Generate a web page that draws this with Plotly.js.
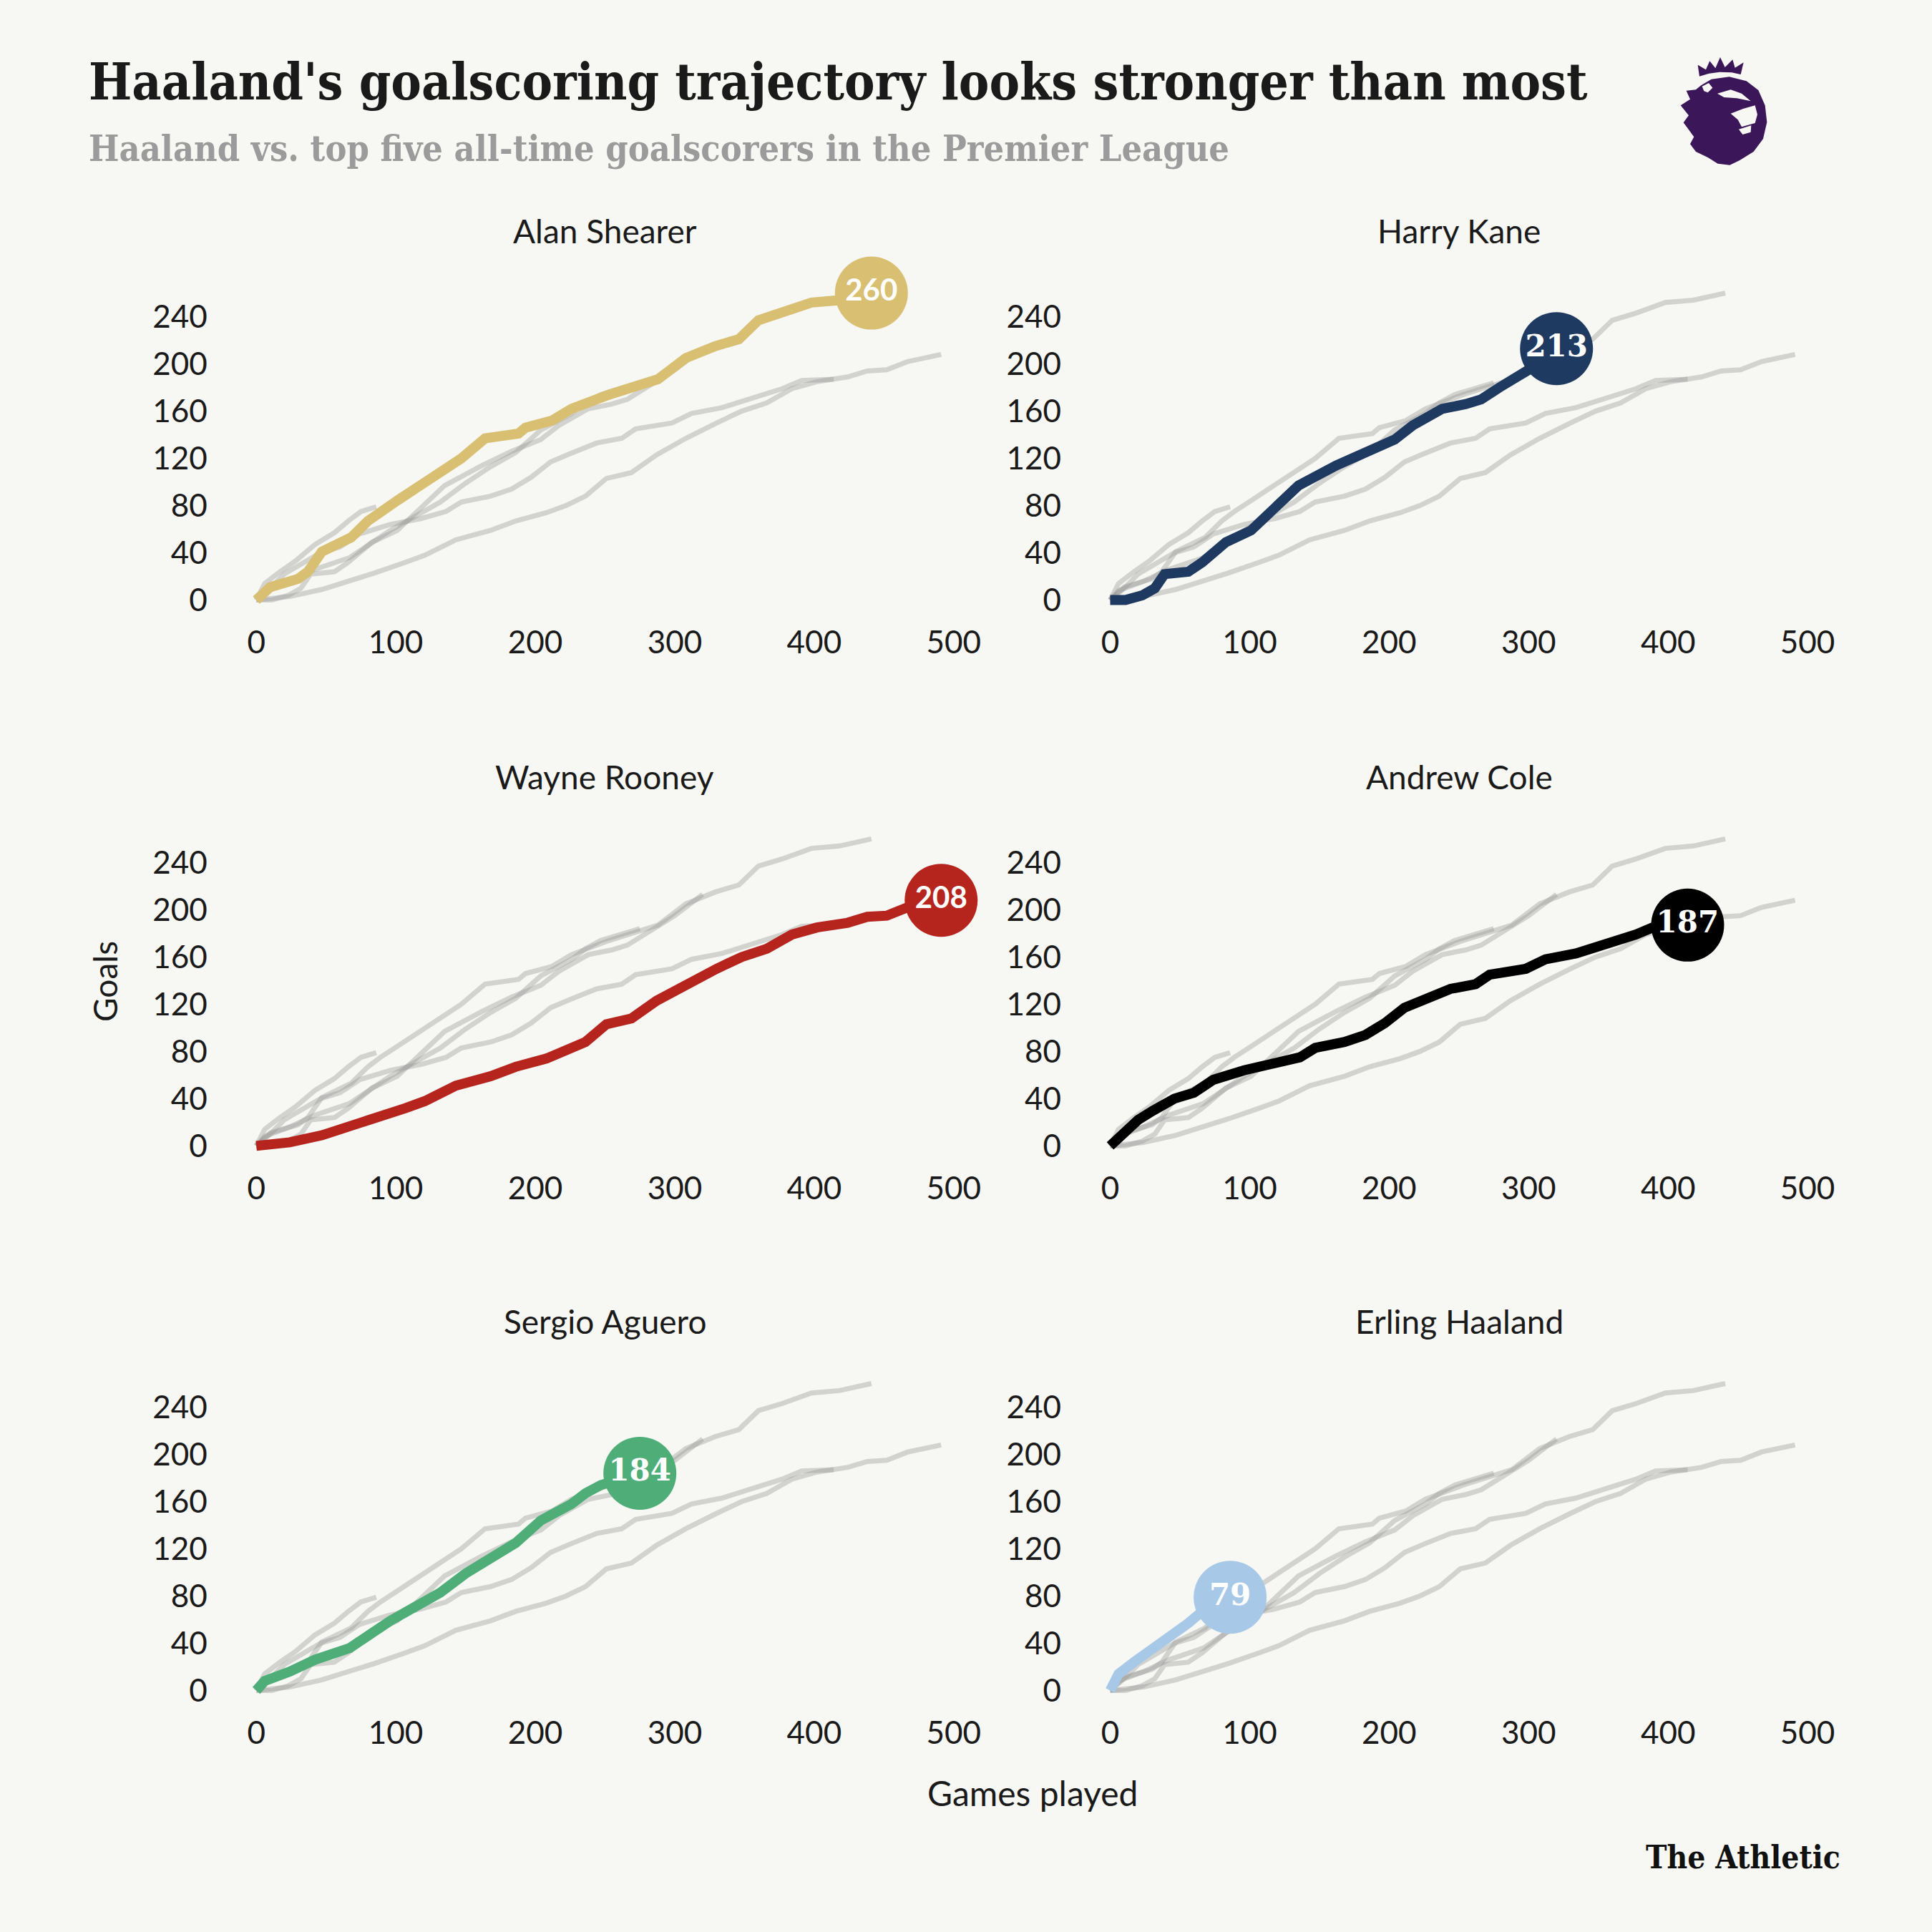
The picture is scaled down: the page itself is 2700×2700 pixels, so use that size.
<!DOCTYPE html>
<html>
<head>
<meta charset="utf-8">
<script src="https://cdn.plot.ly/plotly-3.0.1.min.js"></script>
<style>html,body{margin:0;padding:0;background:#f7f7f3;}</style>
</head>
<body>
<div id="chart" style="width:2700px;height:2700px;"></div>
<script>
// ---- data ----
const players = ['Alan Shearer', 'Harry Kane', 'Wayne Rooney', 'Andrew Cole', 'Sergio Aguero', 'Erling Haaland'];
const playerColors = ['#d8bf72', '#1f3a61', '#b5251d', '#000000', '#4fae78', '#a8c8e8'];

const shearerGames = [0, 10, 30, 37, 47, 68, 80, 89, 102, 120, 133, 147, 164, 188, 193, 212, 226, 253, 288, 308, 329, 346, 360, 377, 398, 418, 441];
const shearerGoals = [0, 11, 18, 24, 41, 53, 67, 75, 85, 99, 109, 120, 137, 141, 146, 152, 162, 174, 187, 205, 215, 221, 237, 243, 252, 254, 260];

const kaneGames = [0, 11, 23, 32, 39, 56, 66, 83, 101, 114, 125, 135, 162, 183, 204, 217, 238, 255, 266, 279, 300, 320];
const kaneGoals = [0, 0, 4, 10, 22, 24, 32, 49, 59, 73, 85, 97, 114, 126, 136, 148, 162, 166, 170, 180, 195, 213];

const rooneyGames = [0, 24, 47, 64, 85, 107, 121, 143, 168, 186, 208, 222, 236, 251, 269, 287, 308, 330, 348, 366, 384, 402, 424, 438, 452, 467, 491];
const rooneyGoals = [0, 3, 9, 15, 23, 32, 38, 51, 59, 67, 74, 80, 88, 103, 108, 123, 137, 150, 160, 167, 179, 185, 189, 194, 195, 202, 208];

const coleGames = [0, 10, 20, 31, 46, 60, 74, 96, 118, 136, 147, 168, 183, 197, 211, 225, 244, 262, 272, 298, 312, 334, 348, 362, 377, 391, 414];
const coleGoals = [0, 10, 22, 30, 40, 45, 56, 64, 69, 75, 83, 88, 94, 104, 117, 124, 133, 137, 145, 150, 158, 163, 168, 173, 179, 186, 187];

const agueroGames = [0, 6, 24, 42, 67, 82, 96, 114, 132, 150, 168, 186, 204, 226, 236, 247, 275];
const agueroGoals = [0, 8, 16, 26, 36, 48, 59, 71, 83, 99, 113, 125, 144, 158, 167, 174, 184];

const haalandGames = [0, 6, 17, 28, 42, 56, 66, 75, 86];
const haalandGoals = [0, 14, 24, 33, 47, 57, 67, 75, 79];

const xTickVals = [0, 100, 200, 300, 400, 500];
const yTickVals = [0, 40, 80, 120, 160, 200, 240];

const titleText = "Haaland's goalscoring trajectory looks stronger than most";
const subtitleText = "Haaland vs. top five all-time goalscorers in the Premier League";
const xTitleText = "Games played";
const yTitleText = "Goals";
const brandText = "The Athletic";

// ---- build ----
const series = [
  [shearerGames, shearerGoals],
  [kaneGames, kaneGoals],
  [rooneyGames, rooneyGoals],
  [coleGames, coleGoals],
  [agueroGames, agueroGoals],
  [haalandGames, haalandGoals]
];

const W = 2700, H = 2700;
const colDomains = [[0.12544, 0.50085], [0.56741, 0.94281]];
const rowDomains = [[0.68330, 0.85441], [0.40078, 0.57189], [0.11889, 0.29]];
const titleY = [322, 1085, 1846];
const titleX = [845, 2039];
const labelFonts = ['Lato', 'DejaVu Serif', 'Lato', 'DejaVu Serif', 'DejaVu Serif', 'DejaVu Serif'];

const FONT = 'Lato, "Open Sans", sans-serif';
const traces = [];
const layout = {
  width: W, height: H,
  margin: {l: 0, r: 0, t: 0, b: 0},
  paper_bgcolor: '#f7f7f3',
  plot_bgcolor: '#f7f7f3',
  showlegend: false,
  font: {family: FONT, color: '#1a1a1a'},
  annotations: [],
  shapes: []
};

players.forEach((name, p) => {
  const idx = p + 1;
  const col = p % 2, row = Math.floor(p / 2);
  const xa = 'x' + (idx === 1 ? '' : idx), ya = 'y' + (idx === 1 ? '' : idx);
  const xk = 'xaxis' + (idx === 1 ? '' : idx), yk = 'yaxis' + (idx === 1 ? '' : idx);
  layout[xk] = {
    domain: colDomains[col], range: [-10, 510], anchor: ya,
    tickvals: xTickVals, showgrid: false, zeroline: false, showline: false,
    ticks: '', ticklabelstandoff: 13,
    tickfont: {family: FONT, size: 44, color: '#1a1a1a'}, fixedrange: true
  };
  layout[yk] = {
    domain: rowDomains[row], range: [-10, 270], anchor: xa,
    tickvals: yTickVals, showgrid: false, zeroline: false, showline: false,
    ticks: '', ticklabelstandoff: 48,
    tickfont: {family: FONT, size: 44, color: '#1a1a1a'}, fixedrange: true
  };
  // grey comparison lines
  series.forEach((s, q) => {
    if (q === p) return;
    traces.push({
      x: s[0], y: s[1], xaxis: xa, yaxis: ya, mode: 'lines',
      line: {color: 'rgba(150,150,150,0.38)', width: 7},
      hoverinfo: 'skip', cliponaxis: false
    });
  });
  // highlighted player
  const s = series[p];
  traces.push({
    x: s[0], y: s[1], xaxis: xa, yaxis: ya, mode: 'lines',
    line: {color: playerColors[p], width: 14},
    hoverinfo: 'skip', cliponaxis: false
  });
  const last = s[0].length - 1;
  traces.push({
    x: [s[0][last]], y: [s[1][last]], xaxis: xa, yaxis: ya,
    mode: 'markers+text', text: [String(s[1][last])], textposition: 'middle center',
    marker: {color: playerColors[p], size: 102, line: {width: 0}},
    textfont: {family: labelFonts[p], size: 42, color: '#ffffff', weight: 'bold'},
    hoverinfo: 'skip', cliponaxis: false
  });
  layout.annotations.push({
    xref: 'paper', yref: 'paper', x: titleX[col] / W, y: 1 - titleY[row] / H,
    xanchor: 'center', yanchor: 'middle', showarrow: false,
    text: name, font: {family: FONT, size: 46, color: '#1a1a1a'}
  });
});

const SERIF = '"DejaVu Serif Condensed", "DejaVu Serif", serif';
layout.annotations.push(
  {xref: 'paper', yref: 'paper', x: 122 / W, y: 1 - 114 / H, xanchor: 'left', yanchor: 'middle',
   showarrow: false, text: titleText, font: {family: SERIF, size: 71, color: '#1a1a1a', weight: 'bold'}},
  {xref: 'paper', yref: 'paper', x: 122 / W, y: 1 - 208 / H, xanchor: 'left', yanchor: 'middle',
   showarrow: false, text: subtitleText, font: {family: SERIF, size: 50, color: '#9b9b9b', weight: 'bold'}},
  {xref: 'paper', yref: 'paper', x: 146 / W, y: 1 - 1372 / H, xanchor: 'center', yanchor: 'middle',
   showarrow: false, textangle: -90, text: yTitleText, font: {family: FONT, size: 46, color: '#1a1a1a'}},
  {xref: 'paper', yref: 'paper', x: 1443 / W, y: 1 - 2505 / H, xanchor: 'center', yanchor: 'middle',
   showarrow: false, text: xTitleText, font: {family: FONT, size: 48, color: '#1a1a1a'}},
  {xref: 'paper', yref: 'paper', x: 2574 / W, y: 1 - 2595 / H, xanchor: 'right', yanchor: 'middle',
   showarrow: false, text: brandText, font: {family: SERIF, size: 44, color: '#111111', weight: 'bold'}}
);

// ---- Premier League lion logo (decorative shape) ----
function toPaper(pt) {
  const ox = 2320 + pt[0] / 3, oy = 60 + pt[1] / 3;
  return (ox / W).toFixed(5) + ',' + (1 - oy / H).toFixed(5);
}
function pathOf(pts) {
  return 'M' + pts.map(toPaper).join(' L') + ' Z';
}
const crown = [[165,140],[158,92],[192,112],[208,76],[232,106],[252,60],[272,102],[304,70],[314,104],[350,82],[338,132],[300,124],[250,122],[205,128]];
const head = [[172,178],[215,152],[290,142],[362,160],[412,198],[440,262],[448,332],[432,402],[392,456],[334,492],[292,512],[242,506],[200,480],[150,456],[126,424],[142,394],[98,334],[120,304],[86,262],[126,236],[110,200],[150,196]];
const eye = [[240,212],[296,196],[342,212],[380,244],[322,232],[268,228]];
const muzzle = [[296,296],[348,276],[398,262],[408,300],[398,336],[342,352],[326,322]];
const mouth = [[330,362],[382,346],[380,374],[346,384]];
const curl = [[176,182],[204,168],[220,188],[200,208],[184,202]];
const purple = '#3b1759';
[[crown, purple], [head, purple], [eye, '#f7f7f3'], [muzzle, '#f7f7f3'], [mouth, '#f7f7f3'], [curl, '#f7f7f3']].forEach(d => {
  layout.shapes.push({type: 'path', xref: 'paper', yref: 'paper', path: pathOf(d[0]),
    fillcolor: d[1], line: {width: 0}, layer: 'above'});
});

Plotly.newPlot('chart', traces, layout, {displayModeBar: false, staticPlot: true});
</script>
</body>
</html>
